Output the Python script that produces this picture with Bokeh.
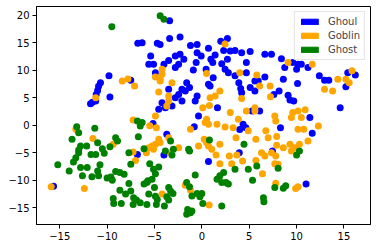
from bokeh.plotting import figure
from bokeh.models import Range1d, FixedTicker, Legend, LegendItem, ColumnDataSource
from bokeh.embed import file_html
from bokeh.resources import INLINE

ghoul_x = [-6.76, -6.3, -5.4, -5.6, -5.1, -9.8, -7.5, -10.7, -10.9, -11.0, -11.15, -11.2, -11.55, -11.75,
           -9.7, -4.0, 0.7, 3.95, -6.8, -15.65, 7.45, 11.0,
           -1.6, -1.3, -2.1, -1.75, -2.45, -3.5, -2.8, -2.1, -4.2, -4.55, -3.85, -3.15, -0.5, -0.7,
           0.7, 0.87, 1.65, -0.35, 4.35, 4.65, 4.0, 5.3, 3.9, 4.1, 4.2, 5.1, 5.95, 5.6, 3.5,
           -0.8, -3.7, -5.15,
           -3.4, -3.4, -2.3, -4.7, -4.4, -1.2, -0.5, 0.7, 2.0, 2.7, 2.3, 3.0, 3.5, 4.2, 5.1,
           -4.0, -4.9, -3.5, -2.8, -2.3, -1.9, -2.45, -2.8, -0.9, -0.5, -0.07, -0.6, 0.45, 1.2,
           0.95, 1.4, 1.15, 2.1, 2.7, 2.45, 2.8, 4.7, 4.7,
           6.65, 7.35, 8.4, 9.6, 10.15, 10.5, 10.0, 8.75, 11.2, 6.65, 8.6, 12.4, 12.95, 13.4,
           15.4, 16.2, 5.6, 10.1, 8.15, 7.6, 9.1, 9.3, 9.7, 15.2, 14.6, 6.1, 11.4, 8.3, 11.65]
ghoul_y = [14.9, 15.0, 12.6, 11.1, 11.1, 9.0, 8.2, 7.75, 7.1, 6.3, 5.6, 4.4, 4.2, 3.9,
           5.15, -5.4, -6.6, -5.0, -5.3, -11.1, -4.7, -10.7,
           7.75, 6.85, 6.55, 6.25, 5.6, 6.55, 5.0, 4.4, 4.1, 2.9, 3.2, 3.5, 5.3, 4.4,
           7.45, 7.15, 3.2, 1.7, 0.2, -0.45, -0.75, 2.6, 7.75, 6.7, 5.9, 6.85, 8.05, 6.25, 9.0,
           -0.25, -1.65, 0.3,
           19.0, 15.8, 16.05, 14.9, 14.7, 14.5, 14.7, 14.0, 15.3, 15.8, 13.6, 13.5, 13.6, 13.2, 13.4,
           11.1, 9.55, 11.8, 12.6, 12.9, 12.0, 11.1, 10.5, 10.05, 13.2, 12.6, 11.4, 10.2, 8.65,
           12.0, 12.8, 11.4, 11.2, 12.0, 10.2, 9.55, 11.4, 9.55,
           12.9, 12.9, 12.1, 11.4, 11.1, 11.1, 10.2, 10.5, 10.5, 8.8, 8.35, 9.0, 8.2, 8.2,
           9.55, 9.15, 8.05, 7.6, 6.25, 5.6, 5.45, 4.6, 4.4, 7.0, 3.2, 2.6, 1.4, -0.45, -1.45]

goblin_x = [-8.4, -7.8, -7.1, -11.2, -7.25, -5.5, -13.3, -11.5, -9.35, -7.25, -5.6, -7.0, -15.9, -12.4,
            -5.85, -4.2, -1.75, -1.2, 0.77, 1.9, 1.5, 2.9, 3.15, 3.7, 4.3,
            6.3, 6.65, 7.35, 7.8, 5.7, 7.7, 8.05, 6.4, 7.8, 9.9, 10.15, 9.45,
            -4.9, -4.4, -3.15, -4.55, -3.5, -3.5, -3.7, -4.9, 1.9, 0.87, 1.4, 0.1, 0.8, 3.0,
            0.5, 0.35, 0.7, 1.6, 2.45, 3.3, 3.85, 4.9, 4.7, 5.6, 4.2, -1.2, -4.8,
            -3.5, -4.55, -4.9, -4.4, -5.25, -5.1, -3.3, -2.45, -0.35, 0.25, 0.5, 0.7, 1.05,
            1.9, 3.6, 5.7,
            2.45, -4.2, -4.2, -4.4, 0.5, 4.0, 5.8,
            9.1, 11.65, 14.35, 15.85, 15.2,
            6.1, 7.2, 7.25, 15.55, 12.95, 13.8, 5.6, 7.7, 7.8, 9.45, 9.6, 10.15, 10.5, 10.9,
            6.75, 7.0, 7.9, 10.15, 10.75, 12.3, 11.2, 7.9, 8.6, 9.3, 9.8, 10.3]
goblin_y = [8.05, 8.4, 7.15, 5.0, 0.96, -0.1, -0.73, -2.4, -3.45, -4.85, -4.1, -6.4, -11.2, -11.5,
            -5.0, -12.5, -10.9, -11.8, -14.5, -7.0, -5.4, -5.6, -7.0, -5.4, -6.5,
            -5.0, -5.6, -5.0, -5.6, -6.4, -7.0, -7.1, -8.8, -10.55, -11.5, -11.2, -4.7,
            8.8, 8.05, 7.75, 6.05, 5.3, 4.4, 3.5, 1.7, 6.25, 5.0, 5.3, 3.2, 3.6, 2.3,
            1.1, 0.5, 0.2, 0.2, -0.3, -0.45, 1.1, -1.0, 2.6, 2.6, 4.85, -0.73, -0.45,
            -2.25, -2.55, -3.45, -3.15, -3.75, -4.35, -5.0, -4.1, -3.75, -2.55, -3.15, -3.75, -4.35,
            -3.45, -2.25, -2.55,
            14.8, 10.2, 9.3, 8.4, 9.4, 9.55, 9.15,
            11.4, 11.1, 8.35, 9.9, 8.35,
            7.15, 7.15, 5.2, 7.75, 6.55, 6.25, 3.2, 1.7, 0.78, 1.4, 2.3, 2.6, 1.4, 2.8,
            -1.0, -2.25, -2.05, -0.73, -0.73, -0.13, -2.85, -3.65, -4.1, -3.45, -4.1, -3.45]

ghost_x = [-9.5, -4.4, -4.0,
           -6.8, -6.5, -6.3, -13.2, -13.0, -11.3, -13.7, -11.0, -12.8, -12.15, -13.0, -10.5, -9.7,
           -9.1, -8.9, -6.7, -7.7, -6.1, -11.7, -11.2, -10.3,
           -15.2, -14.0, -13.55, -13.3, -13.0, -12.8, -12.6, -12.1, -10.75, -11.0, -10.9, -11.6,
           -10.0, -9.6, -9.45, -9.1, -8.65, -8.2, -7.7, -8.65, -8.05, -7.5, -9.35, -9.3, -8.5,
           -7.2, -6.9, -6.5, -7.25, -5.8, -6.1, -5.7, -5.6, -7.5,
           -3.15, -5.5, -5.1, -4.9, -4.55, -5.8, -5.25, -5.0, -4.9, -4.7, -4.8, -3.5, -3.3, -3.05,
           -3.7, -3.5, -3.95, -0.7, -1.6, -1.3, -1.05, -0.5, -0.2, 0.0, 0.1, -1.5, -1.2, -1.6, -1.05,
           2.1, 1.6, 1.9, 2.3, 2.1, 2.55, 2.8, 3.5, 4.9, 5.35, 5.8, -1.3,
           8.05, 7.7, 8.6, 8.85, 6.5, 6.55, 10.0, 10.3,
           -3.3, -3.85, -3.0, 0.8, -1.4, 4.45]
ghost_y = [17.9, 19.9, 19.3,
           0.78, -0.13, 0.5, -0.25, -1.35, -0.55, -2.55, -3.2, -3.76, -3.76, -4.5, -4.25, -3.9,
           -2.25, -2.85, -2.1, -5.0, -4.25, -5.3, -5.3, -5.1,
           -7.2, -8.3, -6.7, -5.9, -5.0, -7.7, -9.2, -7.7, -7.2, -8.3, -9.2, -9.35,
           -9.6, -9.4, -10.0, -8.4, -8.6, -8.9, -10.6, -11.8, -12.5, -11.95, -13.3, -14.25, -14.25,
           -13.2, -13.6, -14.1, -14.4, -14.4, -10.7, -10.1, -12.5, -7.1,
           -5.4, -7.0, -8.0, -8.8, -7.6, -10.4, -9.8, -11.3, -12.9, -13.5, -14.4, -11.3, -11.95, -12.4,
           -13.0, -13.6, -14.7, -9.05, -10.4, -11.2, -12.85, -12.4, -13.0, -12.4, -14.25, -15.3, -15.9, -16.2, -15.6,
           -14.7, -9.8, -9.2, -8.6, -10.4, -10.4, -10.7, -8.0, -8.0, -10.0, -7.4, -4.7,
           -7.8, -11.3, -11.45, -11.0, -13.2, -13.9, -5.4, -4.7,
           -2.85, -4.7, -4.35, -2.7, -4.35, -3.45]

x_ticks = [-15, -10, -5, 0, 5, 10, 15]
y_ticks = [-15, -10, -5, 0, 5, 10, 15, 20]
classes = ["Ghoul", "Goblin", "Ghost"]
colors = ["#0000ff", "#ffa500", "#008000"]

FONT = "DejaVu Sans"
NAN = float("nan")

p = figure(width=377, height=248, output_backend="svg", toolbar_location=None,
           x_range=Range1d(-17.45, 17.8), y_range=Range1d(-18.05, 21.6),
           min_border_left=36, min_border_right=7, min_border_top=6, min_border_bottom=24)
p.grid.visible = False
p.outline_line_color = "black"
p.outline_line_width = 1
p.background_fill_color = "white"
p.border_fill_color = "white"

for ax, ticks in ((p.xaxis[0], x_ticks), (p.yaxis[0], y_ticks)):
    ax.ticker = FixedTicker(ticks=ticks)
    ax.major_label_overrides = {t: (str(t).replace("-", "\u2212")) for t in ticks}
    ax.minor_tick_line_color = None
    ax.major_tick_in = 0
    ax.major_tick_out = 4
    ax.major_label_text_font = FONT
    ax.major_label_text_font_size = "10px"
    ax.major_label_text_color = "black"
    ax.axis_line_color = "black"
    ax.major_tick_line_color = "black"
    ax.major_label_standoff = 3

series = [(ghoul_x, ghoul_y), (goblin_x, goblin_y), (ghost_x, ghost_y)]
for (xs, ys), c in zip(series, colors):
    p.scatter(xs, ys, size=7, color=c, line_width=0)

items = []
for name, c in zip(classes, colors):
    src = ColumnDataSource(dict(left=[NAN], right=[NAN], top=[NAN], bottom=[NAN]))
    r = p.quad(left="left", right="right", top="top", bottom="bottom", source=src,
               fill_color=c, line_color=c)
    items.append(LegendItem(label=name, renderers=[r]))

legend = Legend(items=items, location="top_right", margin=5, padding=4, spacing=3,
                glyph_width=21, glyph_height=7, label_standoff=8, label_height=11,
                label_text_font=FONT, label_text_font_size="10px",
                border_line_color="#cccccc", border_line_width=1,
                background_fill_color="white", background_fill_alpha=0.8)
p.add_layout(legend)

open("out.html", "w").write(file_html(p, INLINE))
